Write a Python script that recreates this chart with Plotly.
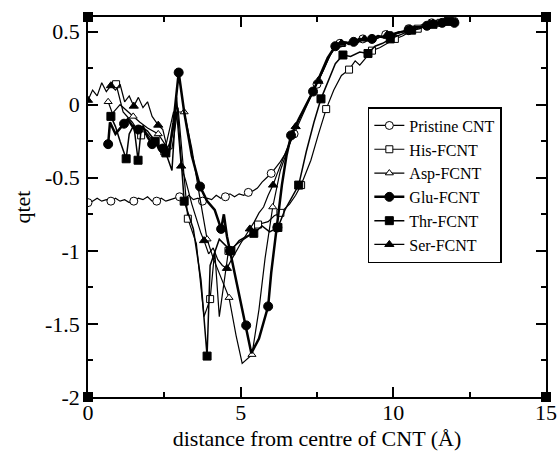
import plotly.graph_objects as go

# ---------------- data ----------------
pristine_x = [0, 0.15, 0.3, 0.45, 0.6, 0.75, 0.9, 1.05, 1.2, 1.35, 1.5, 1.65, 1.8, 1.95, 2.1, 2.25,
              2.4, 2.55, 2.7, 2.85, 3.0, 3.15, 3.3, 3.45, 3.6, 3.75, 3.9, 4.05, 4.2, 4.35, 4.5, 4.65,
              4.8, 4.95, 5.1, 5.25, 5.4, 5.55, 5.7, 5.85, 6.0, 6.15, 6.3, 6.45, 6.6, 6.75, 6.9, 7.05,
              7.2, 7.35, 7.5, 7.65, 7.8, 7.95, 8.1, 8.25, 8.4, 8.55, 8.7, 8.85, 9.0, 9.15, 9.3, 9.45,
              9.6, 9.75, 9.9, 10.05, 10.2, 10.35, 10.5, 10.65, 10.8, 10.95, 11.1, 11.25, 11.4, 11.55,
              11.7, 11.85, 12.0]
pristine_y = [-0.67, -0.66, -0.64, -0.66, -0.65, -0.66, -0.64, -0.66, -0.65, -0.67, -0.66, -0.64,
              -0.65, -0.63, -0.66, -0.66, -0.64, -0.66, -0.65, -0.64, -0.63, -0.65, -0.62, -0.65,
              -0.64, -0.66, -0.64, -0.65, -0.62, -0.64, -0.63, -0.61, -0.63, -0.61, -0.62, -0.60,
              -0.59, -0.57, -0.53, -0.50, -0.47, -0.43, -0.39, -0.34, -0.27, -0.20, -0.12, -0.05,
              0.02, 0.08, 0.14, 0.21, 0.28, 0.35, 0.39, 0.42, 0.43, 0.41, 0.44, 0.43, 0.45, 0.44,
              0.46, 0.45, 0.47, 0.48, 0.47, 0.49, 0.50, 0.50, 0.52, 0.52, 0.53, 0.55, 0.54, 0.56,
              0.55, 0.57, 0.56, 0.57, 0.57]

his_x = [0.92, 1.15, 1.45, 1.74, 1.95, 2.2, 2.5, 2.75, 2.95, 3.27, 3.55, 3.8, 4.0, 4.15, 4.3,
         4.6, 4.9, 5.25, 5.57, 5.9, 6.1, 6.3, 6.6, 6.8, 6.98, 7.3, 7.55, 7.8, 8.05, 8.3, 8.55,
         8.75, 8.9, 9.3, 9.55, 9.8, 10.05, 10.3, 10.55, 10.8, 11.05, 11.3, 11.55]
his_y = [0.14, -0.05, -0.12, -0.21, -0.20, -0.27, -0.32, -0.30, -0.02, -0.78, -0.95, -1.45,
         -1.33, -1.00, -1.45, -1.00, -0.95, -0.90, -0.82, -0.80, -0.76, -0.74, -0.68, -0.62,
         -0.55, -0.38, -0.20, -0.03, 0.10, 0.20, 0.24, 0.30, 0.27, 0.37, 0.39, 0.42, 0.45,
         0.47, 0.50, 0.52, 0.54, 0.55, 0.56]

asp_x = [0.66, 0.8, 1.05, 1.48, 1.7, 1.95, 2.3, 2.55, 2.8, 3.15, 3.4, 3.65, 3.9, 4.1, 4.35,
         4.62, 4.85, 5.05, 5.37, 5.6, 5.8, 6.05, 6.3, 6.5, 6.8, 7.05, 7.3, 7.55, 7.8, 8.05,
         8.3, 8.55, 8.8, 9.05, 9.3, 9.55, 9.8, 10.05, 10.3, 10.55, 10.8, 11.05, 11.3, 11.5,
         11.65, 11.8]
asp_y = [0.02, -0.06, 0.00, -0.08, -0.12, -0.16, -0.20, -0.28, -0.05, -0.05, -0.30, -0.62,
         -0.92, -1.05, -1.18, -1.32, -1.58, -1.77, -1.71, -1.40, -1.05, -0.70, -0.45, -0.33,
         -0.15, -0.04, 0.06, 0.17, 0.29, 0.38, 0.41, 0.43, 0.42, 0.45, 0.44, 0.46, 0.47, 0.48,
         0.50, 0.51, 0.53, 0.53, 0.55, 0.56, 0.55, 0.56]

glu_x = [0.66, 0.72, 0.9, 1.18, 1.3, 1.5, 1.65, 1.8, 1.95, 2.1, 2.2, 2.33, 2.45, 2.65, 2.8,
         2.97, 3.15, 3.4, 3.67, 3.9, 4.15, 4.36, 4.45, 4.55, 4.65, 4.85, 5.0, 5.18, 5.35, 5.6,
         5.9, 6.0, 6.1, 6.2, 6.35, 6.5, 6.65, 6.9, 7.15, 7.37, 7.6, 7.85, 8.1, 8.3, 8.5, 8.7,
         8.9, 9.1, 9.3, 9.5, 9.7, 9.9, 10.1, 10.3, 10.5, 10.7, 10.9, 11.1, 11.3, 11.45, 11.6,
         11.8, 11.9, 12.0]
glu_y = [-0.27, -0.12, -0.20, -0.13, -0.10, -0.16, -0.17, -0.15, -0.22, -0.27, -0.24, -0.29,
         -0.30, -0.33, -0.12, 0.22, -0.05, -0.35, -0.56, -0.66, -0.72, -0.85, -0.75, -0.90,
         -1.00, -1.20, -1.35, -1.51, -1.70, -1.60, -1.38, -1.15, -0.98, -0.84, -0.55, -0.35,
         -0.21, -0.10, 0.00, 0.09, 0.20, 0.32, 0.40, 0.43, 0.42, 0.43, 0.45, 0.44, 0.45, 0.47,
         0.46, 0.47, 0.49, 0.50, 0.51, 0.53, 0.53, 0.54, 0.56, 0.55, 0.56, 0.57, 0.56, 0.56]

thr_x = [0.75, 0.9, 1.05, 1.25, 1.35, 1.5, 1.64, 1.75, 1.95, 2.2, 2.3, 2.45, 2.55, 2.75, 2.9,
         3.15, 3.45, 3.7, 3.9, 4.0, 4.3, 4.68, 4.95, 5.2, 5.43, 5.7, 5.95, 6.22, 6.45, 6.7,
         6.9, 7.15, 7.4, 7.63, 7.9, 8.1, 8.35, 8.6, 8.9, 9.17, 9.4, 9.65, 9.9, 10.15, 10.4,
         10.6, 10.85, 11.05, 11.3, 11.5, 11.65, 11.8]
thr_y = [-0.08, -0.15, -0.25, -0.37, -0.20, -0.14, -0.38, -0.15, -0.18, -0.25, -0.30, -0.28,
         -0.33, -0.45, 0.05, -0.66, -0.85, -1.20, -1.72, -1.10, -0.92, -1.00, -0.93, -0.90,
         -0.88, -0.83, -0.87, -0.84, -0.72, -0.63, -0.55, -0.32, -0.12, 0.04, 0.18, 0.28,
         0.34, 0.33, 0.36, 0.35, 0.40, 0.42, 0.45, 0.47, 0.49, 0.51, 0.52, 0.54, 0.55, 0.56,
         0.56, 0.57]

ser_x = [0.0, 0.15, 0.3, 0.45, 0.6, 0.75, 0.9, 1.05, 1.2, 1.35, 1.5, 1.65, 1.8, 1.95, 2.1,
         2.3, 2.45, 2.6, 2.75, 2.9, 3.05, 3.2, 3.4, 3.6, 3.7, 3.8, 3.95, 4.1, 4.25, 4.4,
         4.55, 4.7, 4.85, 5.0, 5.15, 5.3, 5.45, 5.6, 5.75, 5.9, 6.06, 6.2, 6.35, 6.5, 6.65,
         6.8, 6.95, 7.1, 7.25, 7.4, 7.55, 7.7, 7.85, 8.0, 8.15, 8.3, 8.45, 8.6, 8.75, 8.9,
         9.05, 9.2, 9.35, 9.5, 9.65, 9.8, 9.95, 10.1, 10.25, 10.4, 10.55, 10.7, 10.85, 11.0,
         11.15, 11.3, 11.42, 11.55, 11.68, 11.8, 11.95]
ser_y = [0.03, 0.10, 0.06, 0.15, 0.09, 0.13, 0.10, 0.14, 0.02, 0.06, -0.01, 0.05, -0.02, 0.02,
         -0.08, -0.14, -0.17, -0.30, -0.22, -0.05, -0.42, -0.52, -0.68, -0.82, -0.88, -0.93,
         -1.02, -0.98, -1.06, -1.10, -1.12, -1.06, -1.00, -0.95, -0.90, -0.85, -0.80, -0.74,
         -0.70, -0.62, -0.55, -0.47, -0.39, -0.30, -0.23, -0.15, -0.08, -0.02, 0.04, 0.10,
         0.16, 0.23, 0.30, 0.37, 0.40, 0.42, 0.43, 0.42, 0.44, 0.44, 0.45, 0.45, 0.44, 0.47,
         0.46, 0.48, 0.47, 0.49, 0.50, 0.50, 0.52, 0.51, 0.53, 0.54, 0.55, 0.56, 0.55, 0.57,
         0.56, 0.57, 0.57]

corner_x = [0, 15, 0, 15]
corner_y = [-2, -2, 0.6, 0.6]

x_ticks = [0, 5, 10, 15]
y_ticks = [-2, -1.5, -1, -0.5, 0, 0.5]
y_tick_text = ["-2", "-1.5", "-1", "-0.5", "0", "0.5"]

# ---------------- figure ----------------
FONT = "Liberation Serif, Times New Roman, serif"

series = [
    ("Pristine CNT", pristine_x, pristine_y, "circle", "white", 8, 1.2, 5),
    ("His-FCNT", his_x, his_y, "square", "white", 7, 1.2, 3),
    ("Asp-FCNT", asp_x, asp_y, "triangle-up", "white", 7, 1.2, 3),
    ("Glu-FCNT", glu_x, glu_y, "circle", "black", 9, 2.5, 3),
    ("Thr-FCNT", thr_x, thr_y, "square", "black", 8, 1.5, 3),
    ("Ser-FCNT", ser_x, ser_y, "triangle-up", "black", 8, 1.2, 5),
]

fig = go.Figure()
for i, (name, xs, ys, sym, fill, size, lw, every) in enumerate(series):
    mk = dict(symbol=sym, color=fill, size=size, line=dict(color="black", width=1))
    # the curve itself
    fig.add_trace(go.Scatter(x=xs, y=ys, mode="lines", name=name, legendgroup=name,
                             showlegend=False, line=dict(color="black", width=lw)))
    # symbols on every n-th sample (symbol skip)
    fig.add_trace(go.Scatter(x=xs[::every], y=ys[::every], mode="markers", name=name,
                             legendgroup=name, showlegend=False, marker=mk))
    # legend entry
    fig.add_trace(go.Scatter(x=[None], y=[None], mode="lines+markers", name=name,
                             legendgroup=name, showlegend=True,
                             line=dict(color="black", width=lw), marker=mk))

fig.add_trace(go.Scatter(
    x=corner_x, y=corner_y, mode="markers", showlegend=False, cliponaxis=False,
    marker=dict(symbol="square", color="black", size=10),
))

axis_common = dict(
    showline=True, linecolor="black", linewidth=1.5, mirror="allticks",
    ticks="inside", ticklen=10, tickwidth=1.5, tickcolor="black",
    showgrid=False, zeroline=False, automargin=False,
    tickfont=dict(family=FONT, size=22, color="black"),
)

fig.update_layout(
    width=557, height=455,
    margin=dict(l=88, r=11, t=17, b=58),
    paper_bgcolor="white", plot_bgcolor="white",
    font=dict(family=FONT, color="black"),
    xaxis=dict(range=[0, 15], tickvals=x_ticks,
               minor=dict(dtick=2.5, tick0=0, ticks="inside", ticklen=5, tickwidth=1.5, tickcolor="black"),
               title=dict(text="distance from centre of CNT (Å)", font=dict(family=FONT, size=22), standoff=6),
               ticklabelstandoff=-5,
               **axis_common),
    yaxis=dict(range=[-2, 0.6], tickvals=y_ticks, ticktext=y_tick_text,
               minor=dict(dtick=0.25, tick0=0, ticks="inside", ticklen=5, tickwidth=1.5, tickcolor="black"),
               title=dict(text="qtet", font=dict(family=FONT, size=22), standoff=8),
               ticklabelstandoff=2,
               **axis_common),
    legend=dict(x=0.611, y=0.763, xanchor="left", yanchor="top",
                bgcolor="white", bordercolor="black", borderwidth=1.5,
                font=dict(family=FONT, size=16, color="black"),
                tracegroupgap=0),
    showlegend=True,
)

fig.write_html("out.html", config={"displayModeBar": False},
               post_script="document.body.style.margin='0';document.body.style.overflow='hidden';")
